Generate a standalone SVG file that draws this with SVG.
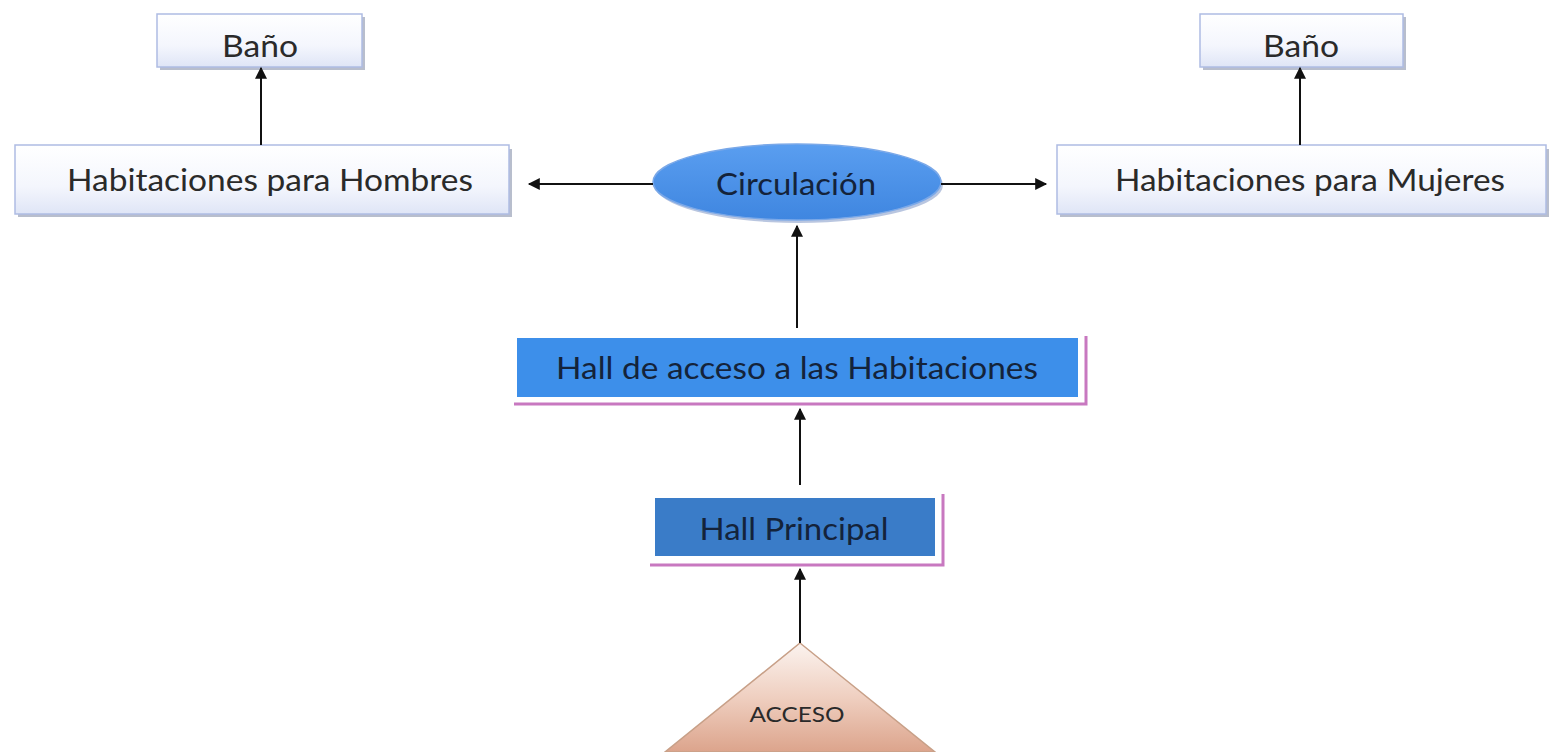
<svg xmlns="http://www.w3.org/2000/svg" width="1549" height="752" viewBox="0 0 1549 752">
<defs>
<linearGradient id="boxg" x1="0" y1="0" x2="0" y2="1">
<stop offset="0" stop-color="#ffffff"/>
<stop offset="0.6" stop-color="#f4f6fd"/>
<stop offset="1" stop-color="#dfe5f6"/>
</linearGradient>
<linearGradient id="ellg" x1="0" y1="0" x2="0" y2="1">
<stop offset="0" stop-color="#5a9ef0"/>
<stop offset="1" stop-color="#3f86e0"/>
</linearGradient>
<linearGradient id="trig" x1="0" y1="0" x2="0" y2="1">
<stop offset="0" stop-color="#fbf3ef"/>
<stop offset="0.5" stop-color="#efcfc0"/>
<stop offset="1" stop-color="#dca48c"/>
</linearGradient>
<marker id="ah" viewBox="0 0 10 10" refX="9" refY="5" markerWidth="13" markerHeight="12" orient="auto" markerUnits="userSpaceOnUse">
<path d="M0,0 L10,5 L0,10 z" fill="#111"/>
</marker>
</defs>
<style>
.box{fill:url(#boxg);stroke:#aebce3;stroke-width:1.5}
.shadow{fill:#9aa3b8;opacity:0.7}
.t{font-family:Lato,"Open Sans","Liberation Sans",sans-serif;fill:#2a2a2a;text-anchor:middle}
.tb{font-family:Lato,"Open Sans","Liberation Sans",sans-serif;fill:#14233a;text-anchor:middle}
.conn{stroke:#111;stroke-width:2;fill:none;marker-end:url(#ah)}
.pink{stroke:#c878c0;stroke-width:3;fill:none}
</style>
<rect width="1549" height="752" fill="#ffffff"/>

<g id="bano-h">
<rect class="shadow" x="160" y="17" width="205" height="53"/>
<rect class="box" x="157" y="14" width="205" height="53"/>
<text class="t" x="260" y="57" font-size="31" textLength="76" lengthAdjust="spacingAndGlyphs">Baño</text>
</g>

<g id="hab-hombres">
<rect class="shadow" x="18" y="149" width="494" height="68"/>
<rect class="box" x="15" y="145" width="494" height="69"/>
<text class="t" x="270" y="191" font-size="31" textLength="406" lengthAdjust="spacingAndGlyphs">Habitaciones para Hombres</text>
</g>

<g id="circulacion">
<ellipse cx="799" cy="185" rx="144" ry="38" fill="#a8b8d8" opacity="0.8"/>
<ellipse cx="797" cy="182" rx="144" ry="38" fill="url(#ellg)" stroke="#7aa8e8" stroke-width="1.5"/>
<text class="tb" x="796" y="195" font-size="31" textLength="160" lengthAdjust="spacingAndGlyphs">Circulación</text>
</g>

<g id="bano-m">
<rect class="shadow" x="1203" y="17" width="203" height="53"/>
<rect class="box" x="1200" y="14" width="203" height="53"/>
<text class="t" x="1301" y="57" font-size="31" textLength="76" lengthAdjust="spacingAndGlyphs">Baño</text>
</g>

<g id="hab-mujeres">
<rect class="shadow" x="1060" y="149" width="489" height="68"/>
<rect class="box" x="1057" y="145" width="489" height="69"/>
<text class="t" x="1310" y="191" font-size="31" textLength="390" lengthAdjust="spacingAndGlyphs">Habitaciones para Mujeres</text>
</g>

<g id="hall-acceso">
<rect x="517" y="338" width="561" height="59" fill="#3d8fea"/>
<polyline class="pink" points="514,404 1086,404 1086,336"/>
<text class="tb" x="797" y="379" font-size="31" textLength="482" lengthAdjust="spacingAndGlyphs">Hall de acceso a las Habitaciones</text>
</g>

<g id="hall-principal">
<rect x="655" y="498" width="280" height="58" fill="#3a7cc8"/>
<polyline class="pink" points="650,565 943,565 943,494"/>
<text class="tb" x="794" y="540" font-size="31" textLength="189" lengthAdjust="spacingAndGlyphs">Hall Principal</text>
</g>

<g id="acceso">
<polygon points="800,643 935,752 665,752" fill="url(#trig)" stroke="#c8a088" stroke-width="1.5"/>
<text class="t" x="797" y="722" font-size="22" textLength="95" lengthAdjust="spacingAndGlyphs">ACCESO</text>
</g>

<g id="connectors">
<line class="conn" x1="261" y1="145" x2="261" y2="68"/>
<line class="conn" x1="1300" y1="145" x2="1300" y2="68"/>
<line class="conn" x1="653" y1="184" x2="529" y2="184"/>
<line class="conn" x1="941" y1="184" x2="1046" y2="184"/>
<line class="conn" x1="797" y1="328" x2="797" y2="226"/>
<line class="conn" x1="800" y1="485" x2="800" y2="409"/>
<line class="conn" x1="800" y1="643" x2="800" y2="569"/>
</g>
</svg>
